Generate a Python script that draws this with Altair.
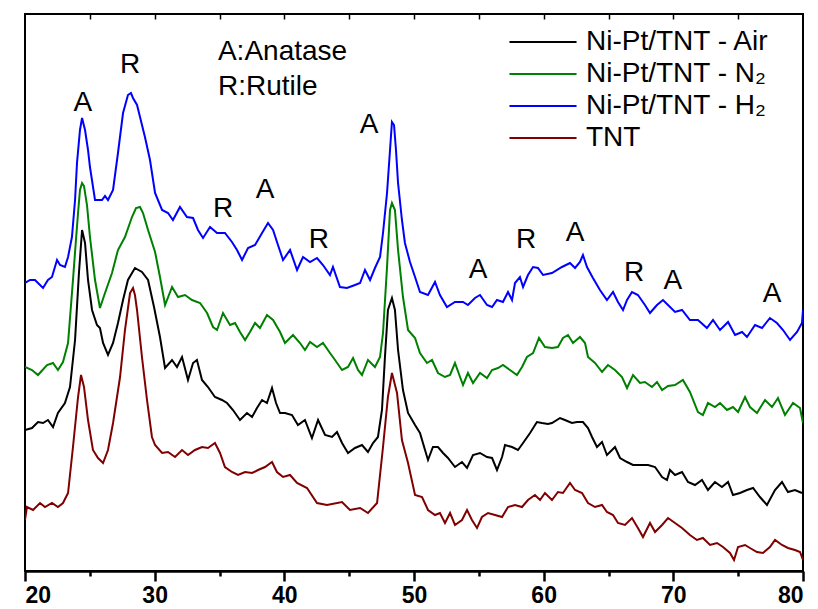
import altair as alt
import pandas as pd

series_names = ["Ni-Pt/TNT - Air", "Ni-Pt/TNT - N₂", "Ni-Pt/TNT - H₂", "TNT"]
series_colors = ["#000000", "#008000", "#0000ff", "#800000"]

# Ni-Pt/TNT - H2 (blue)
tt_h2 = [20.00, 20.39, 20.77, 21.39, 21.77, 22.08, 22.47, 22.70, 23.08, 23.32, 23.62, 23.86, 24.01, 24.24, 24.40,
         24.63, 24.86, 25.01, 25.40, 25.94, 26.17, 26.40, 26.79, 27.17, 27.56, 27.94, 28.17, 28.33, 28.64, 28.87,
         29.25, 29.64, 30.03, 30.57, 31.03, 31.41, 31.95, 32.49, 32.96, 33.34, 33.73, 34.27, 34.81, 35.42, 35.96,
         36.35, 36.74, 37.20, 37.74, 38.28, 38.74, 39.13, 39.51, 39.90, 40.44, 40.98, 41.44, 41.98, 42.52, 42.98,
         43.52, 43.75, 44.29, 44.83, 45.45, 45.84, 46.22, 46.61, 46.99, 47.38, 47.61, 47.92, 48.15, 48.30, 48.46,
         48.61, 48.77, 49.07, 49.30, 49.69, 50.08, 50.46, 51.08, 51.62, 52.00, 52.54, 53.16, 53.78, 54.16, 54.70,
         55.09, 55.63, 56.02, 56.40, 56.86, 57.25, 57.56, 57.79, 58.17, 58.41, 58.79, 59.18, 59.56, 59.95, 60.64,
         61.41, 62.03, 62.42, 62.80, 63.03, 63.34, 63.80, 64.34, 64.88, 65.35, 65.73, 66.12, 66.43, 66.81, 67.27,
         67.81, 68.20, 68.74, 69.20, 69.59, 70.13, 70.67, 71.28, 71.90, 72.59, 73.06, 73.60, 74.22, 74.76, 75.30,
         75.68, 76.30, 76.84, 77.45, 77.99, 78.46, 79.00, 79.54, 79.92, 80.00]
int_h2 = [288, 291, 291, 283, 291, 294, 311, 306, 304, 314, 334, 371, 408, 441, 453,
          441, 421, 404, 371, 371, 375, 371, 381, 418, 458, 476, 478, 473, 466, 454,
          434, 411, 378, 361, 358, 351, 364, 354, 353, 341, 333, 344, 338, 338, 329,
          321, 311, 323, 326, 338, 348, 341, 326, 311, 321, 301, 314, 309, 313, 306,
          296, 304, 284, 283, 286, 288, 301, 291, 303, 314, 338, 378, 421, 449, 446,
          421, 388, 351, 328, 309, 294, 279, 276, 289, 276, 264, 269, 269, 266, 273,
          276, 266, 264, 271, 269, 279, 271, 288, 294, 284, 296, 304, 303, 296, 298,
          304, 308, 303, 309, 316, 304, 293, 281, 271, 279, 269, 261, 271, 279, 276,
          266, 258, 266, 271, 266, 259, 261, 251, 251, 243, 251, 241, 249, 236, 239,
          234, 246, 243, 253, 248, 241, 231, 239, 248, 261]

# Ni-Pt/TNT - N2 (green)
tt_n2 = [20.00, 20.54, 21.00, 21.70, 22.16, 22.54, 22.93, 23.32, 23.70, 23.93, 24.09, 24.24, 24.40, 24.55, 24.78,
         25.01, 25.40, 25.78, 26.17, 26.71, 27.17, 27.71, 28.25, 28.56, 28.87, 29.10, 29.49, 30.03, 30.41, 30.80,
         31.34, 31.80, 32.34, 32.88, 33.50, 34.04, 34.50, 34.81, 35.27, 35.81, 36.20, 36.58, 36.97, 37.35, 37.74,
         38.12, 38.66, 39.13, 39.67, 40.05, 40.67, 41.21, 41.59, 41.98, 42.52, 42.98, 43.52, 43.91, 44.45, 44.91,
         45.30, 45.68, 45.99, 46.45, 46.99, 47.38, 47.61, 47.92, 48.15, 48.30, 48.53, 48.77, 49.15, 49.54, 50.08,
         50.46, 51.00, 51.39, 51.85, 52.39, 52.78, 53.16, 53.55, 53.78, 54.16, 54.55, 55.09, 55.63, 56.02, 56.48,
         56.86, 57.40, 57.94, 58.33, 58.71, 59.18, 59.64, 60.10, 60.64, 61.10, 61.49, 61.88, 62.26, 62.80, 63.19,
         63.42, 63.96, 64.50, 64.96, 65.50, 66.04, 66.43, 66.89, 67.43, 67.81, 68.35, 68.74, 69.13, 69.59, 70.13,
         70.74, 71.28, 71.90, 72.28, 72.67, 73.21, 73.60, 74.14, 74.60, 74.99, 75.53, 75.91, 76.45, 77.07, 77.61,
         78.07, 78.61, 79.23, 79.77, 80.00]
int_n2 = [204, 201, 196, 206, 208, 201, 209, 228, 291, 331, 358, 381, 388, 385, 366,
          334, 291, 263, 278, 298, 321, 334, 354, 363, 364, 358, 341, 319, 294, 266,
          284, 274, 276, 271, 268, 258, 244, 241, 258, 246, 248, 239, 231, 239, 248,
          243, 256, 251, 239, 228, 236, 228, 221, 229, 224, 228, 218, 211, 201, 204,
          213, 201, 196, 211, 204, 214, 238, 304, 361, 368, 361, 321, 274, 241, 233,
          218, 208, 211, 198, 194, 196, 208, 194, 186, 198, 188, 198, 193, 201, 203,
          206, 201, 196, 204, 214, 218, 233, 224, 223, 224, 233, 236, 228, 234, 228,
          214, 208, 199, 206, 201, 194, 183, 196, 188, 189, 184, 189, 181, 185, 186,
          191, 179, 159, 156, 168, 164, 168, 161, 164, 159, 174, 164, 158, 171, 164,
          173, 156, 168, 163, 148]

# Ni-Pt/TNT - Air (black)
tt_air = [20.00, 20.54, 21.00, 21.39, 21.77, 22.16, 22.54, 23.08, 23.47, 23.86, 24.16, 24.40, 24.63, 24.86, 25.17,
          25.55, 25.78, 26.02, 26.40, 26.79, 27.17, 27.56, 27.94, 28.48, 29.02, 29.49, 29.95, 30.41, 30.80, 31.34,
          31.72, 32.11, 32.57, 32.96, 33.26, 33.65, 34.11, 34.65, 35.19, 35.58, 36.04, 36.58, 37.12, 37.51, 37.89,
          38.28, 38.66, 39.05, 39.36, 39.67, 40.05, 40.59, 41.05, 41.59, 42.13, 42.60, 43.14, 43.68, 44.06, 44.45,
          44.91, 45.45, 45.99, 46.45, 46.84, 47.22, 47.53, 47.76, 47.99, 48.30, 48.53, 48.77, 49.15, 49.54, 50.08,
          50.46, 50.85, 51.08, 51.46, 51.85, 52.24, 52.62, 53.16, 53.70, 54.09, 54.55, 55.09, 55.63, 56.02, 56.40,
          56.79, 57.02, 57.56, 58.02, 58.41, 58.95, 59.48, 59.87, 60.33, 60.64, 61.26, 61.64, 62.18, 62.57, 63.03,
          63.42, 63.73, 64.11, 64.50, 64.88, 65.27, 65.50, 65.89, 66.43, 66.89, 67.58, 68.05, 68.59, 69.13, 69.51,
          69.74, 70.13, 70.67, 71.13, 71.67, 72.21, 72.67, 73.21, 73.75, 74.22, 74.60, 75.14, 75.68, 76.15, 76.68,
          77.22, 77.84, 78.38, 78.84, 79.38, 79.92]
int_air = [141, 143, 149, 148, 151, 144, 158, 168, 184, 231, 298, 341, 328, 291, 261,
           246, 243, 228, 216, 228, 248, 271, 291, 303, 299, 291, 264, 234, 203, 211,
           204, 214, 191, 208, 211, 191, 184, 174, 171, 168, 161, 151, 158, 154, 163,
           171, 168, 183, 168, 158, 158, 156, 146, 151, 133, 151, 136, 134, 139, 128,
           118, 123, 126, 119, 128, 134, 161, 214, 261, 273, 261, 221, 181, 158, 146,
           138, 121, 111, 124, 124, 118, 113, 104, 109, 103, 116, 118, 114, 113, 101,
           114, 126, 124, 121, 128, 138, 149, 148, 147, 148, 153, 151, 148, 149, 149,
           143, 134, 124, 129, 116, 121, 124, 113, 109, 106, 106, 106, 104, 94, 91,
           101, 96, 99, 89, 86, 91, 81, 89, 84, 89, 76, 78, 81, 83, 74,
           66, 81, 89, 79, 81, 78]

# TNT (dark red)
tt_tnt = [20.00, 20.15, 20.62, 21.16, 21.54, 22.08, 22.54, 22.93, 23.32, 23.70, 24.09, 24.32, 24.55, 24.86, 25.24,
          25.63, 26.02, 26.40, 26.79, 27.33, 27.71, 28.10, 28.33, 28.48, 28.64, 29.02, 29.41, 29.79, 30.03, 30.57,
          31.03, 31.57, 32.11, 32.57, 33.11, 33.65, 34.11, 34.65, 35.04, 35.42, 35.96, 36.43, 36.97, 37.51, 37.97,
          38.51, 39.05, 39.43, 39.90, 40.44, 40.98, 41.75, 42.52, 43.29, 44.45, 45.06, 45.84, 46.45, 47.15, 47.61,
          47.99, 48.30, 48.69, 49.07, 49.54, 50.08, 50.62, 51.08, 51.62, 52.00, 52.39, 52.78, 53.16, 53.70, 54.09,
          54.47, 54.86, 55.24, 55.71, 56.25, 56.79, 57.25, 57.79, 58.33, 58.79, 59.33, 59.72, 60.10, 60.64, 61.10,
          61.49, 62.03, 62.42, 62.96, 63.42, 63.96, 64.50, 64.88, 65.35, 65.73, 66.27, 66.81, 67.27, 67.66, 68.20,
          68.59, 69.13, 69.59, 70.13, 70.67, 71.28, 71.82, 72.28, 72.83, 73.37, 73.83, 74.37, 74.68, 74.99, 75.53,
          75.91, 76.45, 76.91, 77.45, 77.84, 78.38, 78.84, 79.38, 79.77, 80.00]
int_tnt = [51, 64, 61, 68, 64, 68, 64, 68, 78, 124, 174, 196, 184, 151, 121,
           113, 108, 121, 148, 194, 241, 278, 283, 276, 261, 214, 171, 134, 126, 118,
           119, 114, 121, 116, 121, 124, 123, 128, 118, 104, 99, 96, 99, 98, 101,
           104, 109, 99, 94, 96, 88, 83, 68, 66, 69, 61, 63, 58, 68, 124,
           174, 198, 178, 131, 108, 76, 74, 61, 56, 58, 48, 58, 46, 51, 61,
           51, 43, 54, 58, 56, 54, 64, 66, 64, 71, 76, 71, 78, 71, 79,
           78, 88, 81, 78, 68, 64, 66, 59, 56, 48, 46, 53, 43, 34, 48,
           39, 46, 53, 48, 43, 36, 31, 33, 26, 28, 24, 18, 11, 24, 26,
           23, 19, 18, 24, 31, 26, 23, 21, 19, 11]

# Peak labels (phase, 2theta, intensity)
peak_text = ["A", "R", "R", "A", "R", "A", "A", "R", "A", "R", "A", "A"]
peak_tt = [24.47, 28.10, 35.27, 38.51, 42.67, 46.53, 54.94, 58.64, 62.42, 66.97, 69.97, 77.61]
peak_int = [468, 506, 362, 381, 331, 446, 301, 331, 338, 298, 290, 277]

key_text = ["A:Anatase", "R:Rutile"]
key_tt = [34.88, 34.88]
key_int = [519, 484]

major_ticks = [20, 30, 40, 50, 60, 70, 80]
minor_ticks = [25, 35, 45, 55, 65, 75]
top_ticks = [25, 30, 35, 40, 45, 50, 55, 60, 65, 70, 75]

rows = []
for name, tt, ii in [(series_names[0], tt_air, int_air), (series_names[1], tt_n2, int_n2),
                     (series_names[2], tt_h2, int_h2), (series_names[3], tt_tnt, int_tnt)]:
    for a, b in zip(tt, ii):
        rows.append({"series": name, "two_theta": a, "intensity": b})
df = pd.DataFrame(rows)

peaks_df = pd.DataFrame({"label": peak_text, "two_theta": peak_tt, "intensity": peak_int})
key_df = pd.DataFrame({"label": key_text, "two_theta": key_tt, "intensity": key_int})

FONT = "Liberation Sans"
x_scale = alt.Scale(domain=[20, 80], nice=False, zero=False)
y_scale = alt.Scale(domain=[0, 557], nice=False, zero=False)

lines = alt.Chart(df).mark_line(strokeWidth=2, clip=True).encode(
    x=alt.X("two_theta:Q", scale=x_scale,
            axis=alt.Axis(values=major_ticks, title=None, grid=False, orient="bottom",
                          tickSize=10, tickWidth=2.5, tickColor="black",
                          domainColor="black", domainWidth=2.5,
                          labelFont=FONT, labelFontSize=23, labelFontWeight="bold",
                          labelColor="black", labelPadding=3)),
    y=alt.Y("intensity:Q", scale=y_scale, axis=None),
    color=alt.Color("series:N",
                    scale=alt.Scale(domain=series_names, range=series_colors),
                    legend=alt.Legend(title=None, orient="none", legendX=504, legendY=14,
                                      symbolType="M-5,0H5", symbolSize=180, symbolStrokeWidth=2,
                                      labelFont=FONT, labelFontSize=28, labelColor="black",
                                      labelLimit=0, labelOffset=29, rowPadding=4, padding=0)),
)

minor = alt.Chart(pd.DataFrame({"two_theta": minor_ticks})).mark_point(opacity=0).encode(
    x=alt.X("two_theta:Q", scale=x_scale,
            axis=alt.Axis(values=minor_ticks, title=None, grid=False, orient="bottom",
                          labels=False, domain=False, tickSize=5, tickWidth=2.5, tickColor="black")),
)

top = alt.Chart(pd.DataFrame({"two_theta": top_ticks})).mark_point(opacity=0).encode(
    x=alt.X("two_theta:Q", scale=x_scale,
            axis=alt.Axis(values=top_ticks, title=None, grid=False, orient="top", offset=-5,
                          labels=False, domain=False, tickSize=5, tickWidth=1.5, tickColor="black")),
)

peaks = alt.Chart(peaks_df).mark_text(font=FONT, fontSize=28, color="black",
                                      align="center", baseline="middle").encode(
    x=alt.X("two_theta:Q", scale=x_scale, axis=None),
    y=alt.Y("intensity:Q", scale=y_scale, axis=None),
    text="label:N",
)

key = alt.Chart(key_df).mark_text(font=FONT, fontSize=28, color="black",
                                  align="left", baseline="middle").encode(
    x=alt.X("two_theta:Q", scale=x_scale, axis=None),
    y=alt.Y("intensity:Q", scale=y_scale, axis=None),
    text="label:N",
)

chart = alt.layer(lines, minor, top, peaks, key).resolve_axis(x="independent").properties(
    width=778, height=557,
    autosize=alt.AutoSizeParams(type="none"),
    padding={"left": 25, "top": 14, "right": 15, "bottom": 38},
    background="white",
).configure_view(stroke="black", strokeWidth=2)

chart.save("out.html", embed_options={"renderer": "svg", "actions": False})
